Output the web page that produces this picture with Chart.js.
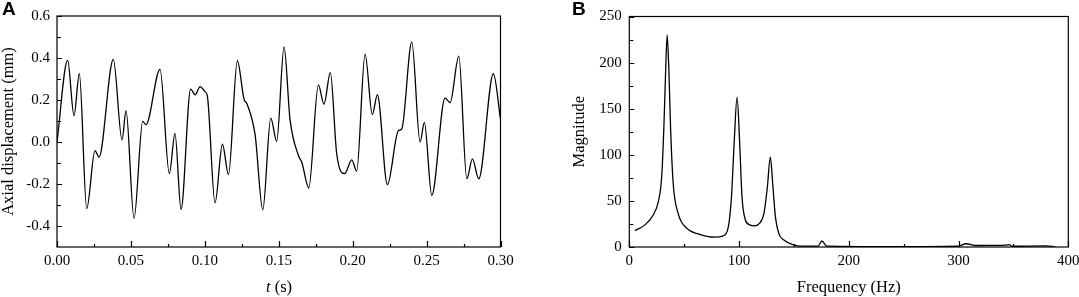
<!DOCTYPE html>
<html>
<head>
<meta charset="utf-8">
<script src="https://cdn.jsdelivr.net/npm/chart.js@4.4.1/dist/chart.umd.min.js"></script>
<style>
  body { margin: 0; background: #fff; }
  #wrap { position: relative; width: 1079px; height: 297px; overflow: hidden; }
  canvas { position: absolute; top: 0; }
  #cA { left: 0; }
  #cB { left: 540px; }
  .panel { position: absolute; top: -2px; font: bold 19px "Liberation Sans", Arial, sans-serif; color: #000; }
  .xlab { position: absolute; font: 16.5px "Liberation Serif", "Times New Roman", serif; color: #000; white-space: nowrap; transform: translateX(-50%); }
</style>
</head>
<body>
<div id="wrap">
  <canvas id="cA" width="540" height="297"></canvas>
  <canvas id="cB" width="560" height="297"></canvas>
  <div class="panel" style="left:2px">A</div>
  <div class="panel" style="left:572px">B</div>
  <div class="xlab" style="left:279px; top:277px"><i>t</i> (s)</div>
</div>
<script>
  /* ===== panel A : axial displacement vs time ===== */
  const timeS = [
    0.0000, 0.0072, 0.0115, 0.0151, 0.0201, 0.0257, 0.0284, 0.0381, 0.0440, 0.0467,
    0.0521, 0.0580, 0.0602, 0.0697, 0.0760, 0.0798, 0.0839, 0.0904, 0.0934, 0.0968,
    0.1001, 0.1017, 0.1069, 0.1119, 0.1160, 0.1220, 0.1265, 0.1285, 0.1340, 0.1392,
    0.1446, 0.1486, 0.1536, 0.1576, 0.1633, 0.1656, 0.1703, 0.1768, 0.1806, 0.1849,
    0.1892, 0.1946, 0.1994, 0.2027, 0.2084, 0.2133, 0.2167, 0.2235, 0.2309, 0.2332,
    0.2400, 0.2456, 0.2485, 0.2535, 0.2625, 0.2659, 0.2718, 0.2772, 0.2810, 0.2853,
    0.2952, 0.3000
  ];
  const dispMm = [
    0.000, 0.389, 0.125, 0.325, -0.317, -0.041, -0.072, 0.393, 0.010, 0.149,
    -0.364, 0.098, 0.083, 0.346, -0.151, 0.041, -0.321, 0.252, 0.225, 0.264,
    0.240, 0.220, -0.290, -0.010, -0.155, 0.387, 0.204, 0.182, 0.035, -0.323,
    0.114, 0.003, 0.453, 0.109, -0.064, -0.096, -0.219, 0.272, 0.180, 0.330,
    -0.056, -0.151, -0.085, -0.139, 0.418, 0.130, 0.225, -0.203, 0.054, 0.062,
    0.477, 0.000, 0.093, -0.254, 0.209, 0.188, 0.409, -0.175, -0.080, -0.175,
    0.325, 0.109
  ];
  const timeTicks = [0, 0.05, 0.10, 0.15, 0.20, 0.25, 0.30];
  const dispTicks = [-0.4, -0.2, 0.0, 0.2, 0.4, 0.6];

  /* ===== panel B : spectrum ===== */
  const freqHz = [
    5.2, 14.3, 21.8, 26.4, 29.5, 31.5, 33.1, 34.5, 36.1, 37.6,
    40.0, 44.5, 52.2, 62.7, 77.9, 85.5, 90.0, 93.1, 95.5, 98.2,
    100.6, 102.7, 105.8, 109.7, 114.3, 118.8, 122.7, 125.8, 128.5, 130.9,
    133.1, 136.1, 141.5, 149.1, 155, 172, 175.5, 180, 240, 300,
    306.7, 316, 343, 346, 349, 379, 388
  ];
  const magnitude = [
    17.8, 24.0, 34.7, 49.0, 75.9, 129.6, 190.6, 230.0, 190.6, 129.6,
    68.8, 36.5, 20.4, 14.3, 10.7, 12.1, 20.4, 54.4, 111.8, 162.6,
    111.8, 54.4, 29.3, 24.0, 22.9, 25.8, 36.5, 65.1, 97.4, 65.1,
    32.9, 15.0, 7.1, 2.5, 1.0, 1.0, 6.5, 1.0, 0.5, 1.0,
    3.5, 1.6, 2.0, 2.5, 0.8, 1.2, 0.3
  ];
  const freqTicks = [0, 100, 200, 300, 400];
  const magTicks = [0, 50, 100, 150, 200, 250];

  const serif = '"Liberation Serif", "Times New Roman", serif';
  const tickFont = { family: serif, size: 15, lineHeight: 1.2 };
  const titleFont = { family: serif, size: 16.5, lineHeight: 1 };

  // box round the plot area plus inward major / minor tick marks
  const frame = {
    id: 'frame',
    afterDatasetsDraw(chart) {
      const { ctx, chartArea: a, scales: { x, y } } = chart;
      ctx.save();
      ctx.strokeStyle = '#000';
      ctx.lineWidth = 1.2;
      ctx.strokeRect(a.left, a.top, a.right - a.left, a.bottom - a.top);
      ctx.beginPath();
      const vals = s => s.ticks.map(t => t.value);
      const mids = v => v.slice(1).map((e, i) => (e + v[i]) / 2);
      vals(x).forEach(v => { const p = Math.round(x.getPixelForValue(v)) + 0.5; ctx.moveTo(p, a.bottom); ctx.lineTo(p, a.bottom - 6); });
      mids(vals(x)).forEach(v => { const p = Math.round(x.getPixelForValue(v)) + 0.5; ctx.moveTo(p, a.bottom); ctx.lineTo(p, a.bottom - 3); });
      let yv = vals(y);
      if (yv[yv.length - 1] < y.max) yv = yv.concat([y.max]);
      yv.forEach(v => { const p = Math.round(y.getPixelForValue(v)) + 0.5; ctx.moveTo(a.left, p); ctx.lineTo(a.left + 5, p); });
      mids(yv).forEach(v => { const p = Math.round(y.getPixelForValue(v)) + 0.5; ctx.moveTo(a.left, p); ctx.lineTo(a.left + 4, p); });
      ctx.stroke();
      ctx.restore();
    }
  };

  function axis(list, opts) {
    return Object.assign({
      type: 'linear',
      grid: { display: false, drawTicks: false },
      border: { display: false },
      afterBuildTicks: s => { s.ticks = list.map(v => ({ value: v })); }
    }, opts);
  }

  let chartA = new Chart(document.getElementById('cA'), {
    type: 'line',
    data: {
      datasets: [{
        data: timeS.map((t, i) => ({ x: t, y: dispMm[i] })),
        borderColor: '#000',
        borderWidth: 1.3,
        pointRadius: 0,
        fill: false,
        cubicInterpolationMode: 'monotone'
      }]
    },
    options: {
      responsive: false,
      animation: false,
      events: [],
      layout: { padding: { left: 0, top: 15, right: 39.5, bottom: 0 } },
      plugins: { legend: { display: false }, tooltip: { enabled: false } },
      scales: {
        x: axis(timeTicks, {
          min: 0, max: 0.3,
          ticks: { font: tickFont, color: '#000', padding: 5, maxRotation: 0, callback: v => v.toFixed(2) },
          afterFit: s => { s.height = 50; }
        }),
        y: axis(dispTicks, {
          min: -0.5, max: 0.6,
          ticks: { font: tickFont, color: '#000', padding: 7, callback: v => v.toFixed(1) },
          title: { display: true, text: 'Axial displacement (mm)', font: titleFont, color: '#000', padding: 0 },
          afterFit: s => { s.width = 57; }
        })
      }
    },
    plugins: [frame]
  });

  let chartB = new Chart(document.getElementById('cB'), {
    type: 'line',
    data: {
      datasets: [{
        data: freqHz.map((f, i) => ({ x: f, y: magnitude[i] })),
        borderColor: '#000',
        borderWidth: 1.3,
        pointRadius: 0,
        fill: false,
        cubicInterpolationMode: 'monotone'
      }]
    },
    options: {
      responsive: false,
      animation: false,
      events: [],
      layout: { padding: { left: 31, top: 15, right: 31.7, bottom: 0 } },
      plugins: { legend: { display: false }, tooltip: { enabled: false } },
      scales: {
        x: axis(freqTicks, {
          min: 0, max: 400,
          ticks: { font: tickFont, color: '#000', padding: 5, maxRotation: 0 },
          title: { display: true, text: 'Frequency (Hz)', font: titleFont, color: '#000', padding: { top: 0, bottom: 1 } },
          afterFit: s => { s.height = 50; }
        }),
        y: axis(magTicks, {
          min: 0, max: 250,
          ticks: { font: tickFont, color: '#000', padding: 7.5 },
          title: { display: true, text: 'Magnitude', font: titleFont, color: '#000', padding: 0 },
          afterFit: s => { s.width = 58.3; }
        })
      }
    },
    plugins: [frame]
  });
</script>
</body>
</html>
